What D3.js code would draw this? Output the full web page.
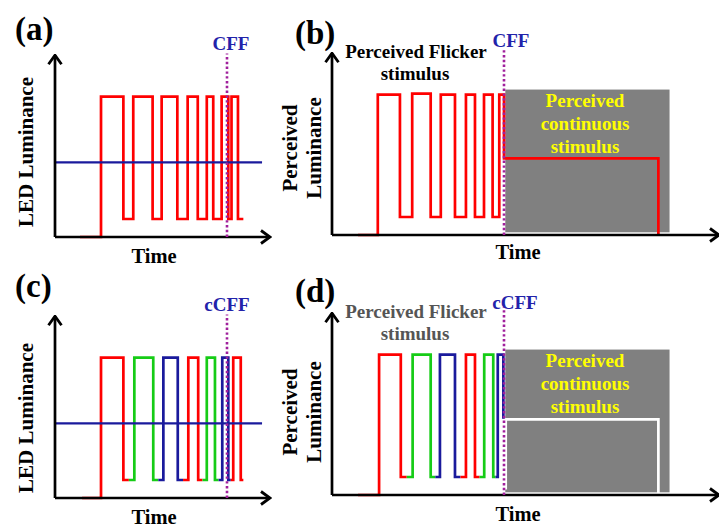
<!DOCTYPE html>
<html>
<head>
<meta charset="utf-8">
<script src="https://cdn.jsdelivr.net/npm/d3@7"></script>
<style>
body { margin: 0; background: #fff; }
text { font-family: "Liberation Serif", "Times New Roman", serif; font-weight: bold; }
</style>
</head>
<body>
<div id="chart"></div>
<script>
// ---- data (time in arbitrary units, luminance 0..100) ----
var panelLetters = ["(a)", "(b)", "(c)", "(d)"];
var cffLabels = ["CFF", "CFF", "cCFF", "cCFF"];
var cffTime = 80;
var meanLevel = 41.5;
var meanEnd = 96.3;

// step lists: [time, level from that time on]
var ledWaveA = [[11.6, 0], [21.4, 78], [31.8, 10], [36.4, 78], [45.4, 10], [49.6, 78], [56.9, 10],
  [61.7, 78], [66.4, 10], [70.6, 78], [73.6, 10], [77.5, 78], [80.6, 10], [82.1, 78], [85.1, 10], [87.6, 10]];
var perceivedWaveB = [[12.1, 0], [21.3, 78], [31.6, 10], [37.3, 78.5], [45.9, 10], [50.6, 78], [57.2, 10],
  [62.3, 78], [66.5, 10], [70.7, 78], [74.7, 10], [77.8, 78], [80, 42.6], [151.8, 0]];

// colour pulses: rise, fall, colour
var pulseColors = ["red", "green", "blue", "red", "green", "blue", "red"];
var risesC = [21.4, 36.9, 50.4, 62.0, 70.6, 77.8, 82.9];
var fallsC = [31.8, 45.7, 57.1, 66.6, 74.4, 80.6, 86.4];
var startC = 12.6, endC = 87.6;
var risesD = [21.9, 37.5, 50.2, 62.3, 70.8, 77.1];
var fallsD = [32.0, 45.9, 57.2, 66.5, 75.0, 79.7];
var startD = 12.1;
var fusedLevelD = 42.4;
var fusedWaveD = [[80.8, 3], [80.8, 42], [151.8, 0]];

var highLevel = 78, lowLevel = 10;
var grayBox = {t0: 80.6, t1: 157, lo: 1.5, hi: 80.8};

// ---- layout ----
var colors = {red: "#ff0000", green: "#16cc16", blue: "#1a1a9c"};
var panels = [
  {x0: 55, y0: 237, tmax: 100},
  {x0: 332, y0: 235, tmax: 180},
  {x0: 55, y0: 498, tmax: 100},
  {x0: 332, y0: 495, tmax: 180}
];
var pxPerT = 2.15, pxPerL = 1.8;

var svg = d3.select("#chart").append("svg")
  .attr("width", 719)
  .attr("height", 529);

svg.append("defs").append("marker")
  .attr("id", "arrow")
  .attr("viewBox", "0 0 12 16")
  .attr("refX", 10.5)
  .attr("refY", 8)
  .attr("markerWidth", 12)
  .attr("markerHeight", 16)
  .attr("markerUnits", "userSpaceOnUse")
  .attr("orient", "auto")
  .append("path")
  .attr("d", "M1.5,1.5 L10.5,8 L1.5,14.5")
  .attr("fill", "none")
  .attr("stroke", "#000")
  .attr("stroke-width", 2.8);

panels.forEach(function(p) {
  p.x = d3.scaleLinear().domain([0, p.tmax]).range([p.x0, p.x0 + p.tmax * pxPerT]);
  p.y = d3.scaleLinear().domain([0, 100]).range([p.y0, p.y0 - 100 * pxPerL]);
  p.line = d3.line()
    .x(function(d) { return p.x(d[0]); })
    .y(function(d) { return p.y(d[1]); })
    .curve(d3.curveStepAfter);
  p.g = svg.append("g");
});

function drawPath(p, pts, color, width) {
  p.g.append("path")
    .attr("d", p.line(pts))
    .attr("fill", "none")
    .attr("stroke", color)
    .attr("stroke-width", width || 2.7)
    .attr("stroke-linejoin", "miter");
}

// build coloured pulse segments, each split at the middle of the low parts
function pulses(rises, falls, start, end, lastLevel) {
  return rises.map(function(r, i) {
    var s = i === 0 ? start : (falls[i - 1] + r) / 2;
    var sLevel = i === 0 ? 0 : lowLevel;
    var pts = [[s, sLevel], [r, highLevel], [falls[i], lowLevel]];
    if (i < rises.length - 1) pts.push([(falls[i] + rises[i + 1]) / 2, lowLevel]);
    else if (end != null) pts.push([end, lowLevel]);
    else pts[2][1] = lastLevel;
    return {color: pulseColors[i], pts: pts};
  });
}

// gray "perceived continuous" boxes
[1, 3].forEach(function(i) {
  var p = panels[i];
  p.g.append("rect")
    .attr("x", p.x(grayBox.t0))
    .attr("y", p.y(grayBox.hi))
    .attr("width", p.x(grayBox.t1) - p.x(grayBox.t0))
    .attr("height", p.y(grayBox.lo) - p.y(grayBox.hi))
    .attr("fill", "#808080");
});

// (a)
drawPath(panels[0], ledWaveA, colors.red);
// (b)
drawPath(panels[1], perceivedWaveB, colors.red);
// (c)
pulses(risesC, fallsC, startC, endC).forEach(function(s) {
  drawPath(panels[2], s.pts, colors[s.color]);
});
// (d)
drawPath(panels[3], fusedWaveD, "#fff");
pulses(risesD, fallsD, startD, null, fusedLevelD).forEach(function(s) {
  drawPath(panels[3], s.pts, colors[s.color]);
});

// mean luminance line in (a) and (c)
[0, 2].forEach(function(i) {
  var p = panels[i];
  p.g.append("line")
    .attr("x1", p.x(0)).attr("x2", p.x(meanEnd))
    .attr("y1", p.y(meanLevel)).attr("y2", p.y(meanLevel))
    .attr("stroke", "#1a1a9c")
    .attr("stroke-width", 2.3);
});

// axes with arrow heads
panels.forEach(function(p) {
  p.g.append("line")
    .attr("x1", p.x(0)).attr("y1", p.y(0))
    .attr("x2", p.x(p.tmax)).attr("y2", p.y(0))
    .attr("stroke", "#000").attr("stroke-width", 2.7)
    .attr("marker-end", "url(#arrow)");
  p.g.append("line")
    .attr("x1", p.x(0)).attr("y1", p.y(0))
    .attr("x2", p.x(0)).attr("y2", p.y(101))
    .attr("stroke", "#000").attr("stroke-width", 2.7)
    .attr("marker-end", "url(#arrow)");
});

// CFF dotted markers
var cffTop = [102, 103.5, 102, 104.5];
panels.forEach(function(p, i) {
  p.g.append("line")
    .attr("x1", p.x(cffTime)).attr("x2", p.x(cffTime))
    .attr("y1", p.y(0)).attr("y2", p.y(cffTop[i]))
    .attr("stroke", "#a0209c")
    .attr("stroke-width", 2.6)
    .attr("stroke-dasharray", "2.4,2.4");
});

// ---- text ----
var letterPos = [[15, 40], [295, 44], [15, 297], [295, 302]];
panelLetters.forEach(function(t, i) {
  svg.append("text")
    .attr("x", letterPos[i][0]).attr("y", letterPos[i][1])
    .style("font-size", "33px")
    .text(t);
});

var cffPos = [[231, 50], [511, 47], [227, 311], [515, 309]];
cffLabels.forEach(function(t, i) {
  svg.append("text")
    .attr("x", cffPos[i][0]).attr("y", cffPos[i][1])
    .attr("text-anchor", "middle")
    .attr("fill", "#2222aa")
    .style("font-size", "19px")
    .text(t);
});

var timePos = [[154, 263], [518, 259], [154, 524], [518, 521]];
timePos.forEach(function(pos) {
  svg.append("text")
    .attr("x", pos[0]).attr("y", pos[1])
    .attr("text-anchor", "middle")
    .style("font-size", "20.5px")
    .text("Time");
});

[152, 418].forEach(function(cy) {
  svg.append("text")
    .attr("transform", "translate(33," + cy + ") rotate(-90)")
    .attr("text-anchor", "middle")
    .style("font-size", "21px")
    .text("LED Luminance");
});

[148, 412].forEach(function(cy) {
  svg.append("text")
    .attr("transform", "translate(297," + cy + ") rotate(-90)")
    .attr("text-anchor", "middle")
    .style("font-size", "21px")
    .text("Perceived");
  svg.append("text")
    .attr("transform", "translate(320.5," + cy + ") rotate(-90)")
    .attr("text-anchor", "middle")
    .style("font-size", "21px")
    .text("Luminance");
});

[[58, "#000"], [318, "#555"]].forEach(function(d) {
  svg.append("text")
    .attr("x", 416).attr("y", d[0])
    .attr("text-anchor", "middle")
    .attr("fill", d[1])
    .style("font-size", "19px")
    .text("Perceived Flicker");
  svg.append("text")
    .attr("x", 415).attr("y", d[0] + 22)
    .attr("text-anchor", "middle")
    .attr("fill", d[1])
    .style("font-size", "19px")
    .text("stimulus");
});

[107, 367].forEach(function(y) {
  ["Perceived", "continuous", "stimulus"].forEach(function(t, j) {
    svg.append("text")
      .attr("x", 585).attr("y", y + j * 23)
      .attr("text-anchor", "middle")
      .attr("fill", "#ffff00")
      .style("font-size", "19px")
      .text(t);
  });
});
</script>
</body>
</html>
